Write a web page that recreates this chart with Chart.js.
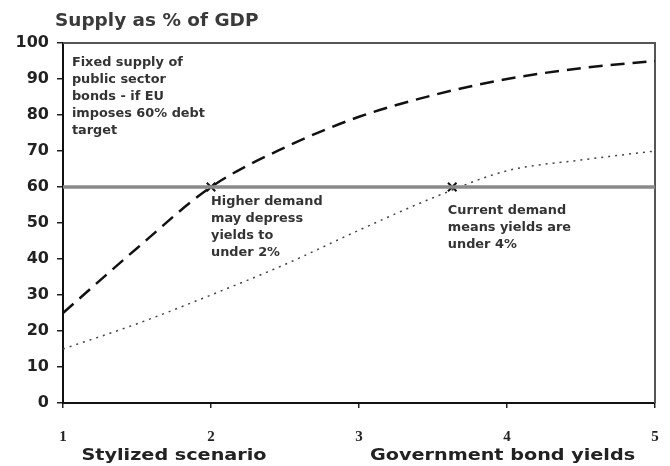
<!DOCTYPE html>
<html>
<head>
<meta charset="utf-8">
<script src="https://cdn.jsdelivr.net/npm/chart.js@4/dist/chart.umd.min.js"></script>
<style>
  html, body { margin: 0; padding: 0; background: #fff; }
  #wrap { width: 670px; height: 466px; position: relative; }
</style>
</head>
<body>
<div id="wrap"><canvas id="c"></canvas></div>
<script>
// --- data ---
const yields      = [1, 1.5, 2, 2.5, 3, 3.5, 4, 4.5, 5];
const highDemand  = [25, 43, 60, 71, 79.5, 85.5, 90, 93, 95];
const curDemand   = [15, 22, 30, 38.5, 48, 57, 64.5, 67.5, 70];
const fixedSupply = 60;
const crossings   = [[2, 60], [3.63, 60]];
const xTicks      = [1, 2, 3, 4, 5];
const yTicks      = [0, 10, 20, 30, 40, 50, 60, 70, 80, 90, 100];

const titleText = 'Supply as % of GDP';
const xTitles = [
  { text: 'Stylized scenario', x: 1.75 },
  { text: 'Government bond yields', x: 3.97 },
];
const notes = [
  { x: 1.06, y: 96,   lines: ['Fixed supply of', 'public sector', 'bonds - if EU', 'imposes 60% debt', 'target'] },
  { x: 2.0,  y: 57.5, lines: ['Higher demand', 'may depress', 'yields to', 'under 2%'] },
  { x: 3.6,  y: 55,   lines: ['Current demand', 'means yields are', 'under 4%'] },
];

const WIDE = "'DejaVu Sans', Verdana, sans-serif";

// the source image is a bit stretched sideways, so text is drawn wider
function wideText(ctx, text, x, y, sx) {
  ctx.save();
  ctx.translate(x, y);
  ctx.scale(sx, 1);
  ctx.fillText(text, 0, 0);
  ctx.restore();
}

const decor = {
  id: 'decor',
  beforeDatasetsDraw(chart) {
    const { ctx, chartArea: a } = chart;
    ctx.save();
    ctx.strokeStyle = '#555';
    ctx.lineWidth = 2;
    ctx.beginPath();
    ctx.moveTo(a.left, a.top);
    ctx.lineTo(a.right, a.top);
    ctx.lineTo(a.right, a.bottom);
    ctx.stroke();
    ctx.restore();
  },
  afterDraw(chart) {
    const { ctx, scales: { x, y } } = chart;
    ctx.save();
    ctx.fillStyle = '#3a3a3a';
    ctx.font = `bold 17px ${WIDE}`;
    ctx.textBaseline = 'middle';
    ctx.textAlign = 'left';
    wideText(ctx, titleText, 55, 22, 1.085);

    ctx.fillStyle = '#222';
    ctx.font = `bold 16px ${WIDE}`;
    ctx.textAlign = 'center';
    xTitles.forEach((t) => wideText(ctx, t.text, x.getPixelForValue(t.x), 456, 1.2));

    ctx.font = `bold 11.5px ${WIDE}`;
    ctx.fillStyle = '#333';
    ctx.textAlign = 'left';
    ctx.textBaseline = 'top';
    notes.forEach((n) => {
      const px = x.getPixelForValue(n.x), py = y.getPixelForValue(n.y);
      n.lines.forEach((l, i) => wideText(ctx, l, px, py + i * 17, 1.12));
    });
    ctx.restore();
  },
};

new Chart(document.getElementById('c'), {
  type: 'line',
  data: {
    datasets: [
      {
        data: [{ x: 1, y: fixedSupply }, { x: 5, y: fixedSupply }],
        borderColor: '#8a8a8a', borderWidth: 3.5, pointRadius: 0,
      },
      {
        data: yields.map((v, i) => ({ x: v, y: highDemand[i] })),
        borderColor: '#111', borderWidth: 2.5, borderDash: [14, 8],
        pointRadius: 0, cubicInterpolationMode: 'monotone',
      },
      {
        data: yields.map((v, i) => ({ x: v, y: curDemand[i] })),
        borderColor: '#444', borderWidth: 1.5, borderDash: [2, 5],
        pointRadius: 0, cubicInterpolationMode: 'monotone',
      },
      {
        data: crossings.map(([cx, cy]) => ({ x: cx, y: cy })),
        showLine: false, pointStyle: 'crossRot', pointRadius: 6,
        pointBorderColor: '#111', pointBorderWidth: 2,
      },
    ],
  },
  options: {
    responsive: true,
    maintainAspectRatio: false,
    animation: false,
    layout: { padding: { left: 0, top: 43, right: 15, bottom: 0 } },
    plugins: { legend: { display: false }, tooltip: { enabled: false } },
    scales: {
      x: {
        type: 'linear', min: 1, max: 5,
        afterBuildTicks: (s) => { s.ticks = xTicks.map((v) => ({ value: v })); },
        afterFit: (s) => { s.height = 63; s.paddingLeft = 0; s.paddingRight = 0; },
        ticks: { color: '#222', padding: 20, font: { family: "'Liberation Serif', serif", weight: 'bold', size: 15 } },
        grid: { drawOnChartArea: false, tickLength: 5, color: '#222', lineWidth: 1.5 },
        border: { color: '#111', width: 2 },
      },
      y: {
        min: 0, max: 100,
        afterBuildTicks: (s) => { s.ticks = yTicks.map((v) => ({ value: v })); },
        afterFit: (s) => { s.width = 63; s.paddingTop = 0; s.paddingBottom = 0; },
        ticks: { color: '#222', padding: 8, font: { family: WIDE, weight: 'bold', size: 16 } },
        grid: { drawOnChartArea: false, tickLength: 6, color: '#222', lineWidth: 1.5 },
        border: { color: '#111', width: 2 },
      },
    },
  },
  plugins: [decor],
});
</script>
</body>
</html>
